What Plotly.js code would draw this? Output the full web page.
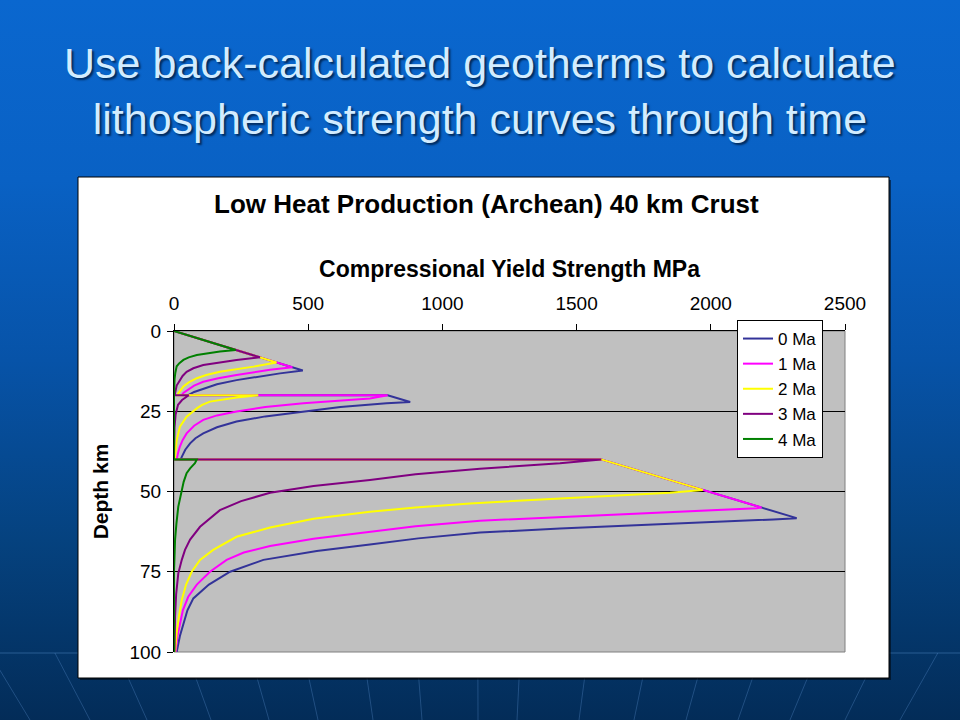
<!DOCTYPE html>
<html>
<head>
<meta charset="utf-8">
<script src="https://cdn.plot.ly/plotly-3.0.1.min.js"></script>
<style>
html, body { margin: 0; padding: 0; width: 960px; height: 720px; overflow: hidden; }
body { background: linear-gradient(to bottom, #0a67cf 0%, #0961c4 25%, #0753a8 50%, #05427f 75%, #032c58 100%); }
#chart { width: 960px; height: 720px; }
</style>
</head>
<body>
<div id="chart"></div>
<script>
// ---- data ----
const seriesNames = ['0 Ma', '1 Ma', '2 Ma', '3 Ma', '4 Ma'];

const depth0 = [0, 12.3, 13.2, 14.2, 15.3, 16.6, 17.9, 19, 20, 20, 22.1, 22.5, 23.7, 25.1, 26.6, 28.2, 30, 31.9, 33.4, 35, 37, 39.2, 40, 40, 58.3, 58.7, 59.7, 60.5, 61.5, 62.8, 64.6, 66.5, 68.5, 71.3, 75, 79, 83.3, 87, 91, 95, 100];
const strength0 = [0, 480, 395, 310, 233, 160, 109, 75, 53, 796, 880, 792, 620, 482, 340, 233, 160, 109, 80, 60, 42, 29, 25, 1592, 2320, 2233, 1960, 1700, 1438, 1140, 910, 730, 532, 333, 209, 130, 72, 50, 35, 22, 10];

const depth1 = [0, 11.3, 12.1, 12.9, 13.7, 14.7, 15.8, 17, 18.4, 19.2, 20, 20, 21, 22.5, 23.7, 25.1, 26.3, 27.7, 29.5, 31.9, 34, 36, 38, 40, 40, 55, 55.2, 56, 57.8, 59.1, 60.8, 62.5, 64.7, 67, 69, 71.3, 75, 79, 82.8, 87, 91, 95, 100];
const strength1 = [0, 441, 358, 290, 233, 165, 109, 75, 47, 36, 29, 796, 730, 482, 340, 233, 160, 109, 75, 47, 32, 22, 15, 10, 1592, 2189, 2171, 1960, 1438, 1140, 900, 730, 520, 358, 260, 196, 134, 85, 53, 33, 22, 13, 6];

const depth2 = [0, 9.8, 11.1, 11.9, 12.7, 13.7, 14.7, 16, 17.3, 19.4, 20, 20, 20.7, 22, 23, 24.1, 26.7, 29.8, 34, 39, 40, 40, 49.5, 50.4, 52.1, 53.7, 55, 56.3, 58.5, 61.2, 64.1, 68.2, 71.3, 75, 79, 83.8, 89, 94, 100];
const strength2 = [0, 382, 296, 230, 171, 120, 85, 55, 35, 16, 14, 314, 233, 134, 105, 85, 47, 22, 10, 4, 4, 1592, 1970, 1848, 1438, 1103, 900, 730, 520, 358, 233, 146, 97, 66, 45, 29, 18, 10, 4];

const depth3 = [0, 8.2, 9, 9.8, 10.6, 11.6, 12.7, 14, 15.3, 17, 19.4, 20, 20, 21.5, 23, 26, 30, 35, 40, 40, 40.5, 41.2, 42.9, 44.6, 46.4, 48.3, 50.4, 53, 55.8, 61, 65, 68.2, 71.3, 75.5, 82, 89, 100];
const strength3 = [0, 320, 233, 165, 109, 72, 47, 32, 22, 10, 4, 3, 55, 30, 15, 6, 2, 1, 0, 1592, 1538, 1438, 1140, 900, 730, 520, 358, 250, 171, 97, 60, 41, 29, 16, 8, 4, 2];

const depth4 = [0, 5.9, 6.4, 7, 7.5, 8.2, 9, 10, 11, 13, 15, 20, 40, 40, 41.2, 42.8, 44.3, 47, 49.5, 54.7, 60, 65, 75, 100];
const strength4 = [0, 230, 171, 125, 85, 55, 35, 20, 10, 5, 2, 0, 0, 85, 78, 60, 47, 36, 29, 16, 9, 4, 0, 0];

const xTicks = [0, 500, 1000, 1500, 2000, 2500];
const yTicks = [0, 25, 50, 75, 100];

// ---- styling ----
const lineColors = ['#333399', '#FF00FF', '#FFFF00', '#800080', '#008000'];
const depths = [depth0, depth1, depth2, depth3, depth4];
const strengths = [strength0, strength1, strength2, strength3, strength4];

const W = 960, H = 720;
const M = { l: 174, r: 115, t: 331, b: 68 };
const PW = W - M.l - M.r, PH = H - M.t - M.b;
const px = x => (x - M.l) / PW;
const py = y => (H - M.b - y) / PH;

const FONT = 'Arial, "Liberation Sans", sans-serif';

const traces = seriesNames.map((name, i) => ({
  type: 'scatter',
  mode: 'lines',
  name: name,
  x: strengths[i],
  y: depths[i],
  line: { color: lineColors[i], width: 2 },
  hoverinfo: 'skip'
}));

const shapes = [];
// decorative horizon + rays of the slide background
shapes.push({ type: 'line', xref: 'paper', yref: 'paper', x0: px(0), x1: px(960), y0: py(653), y1: py(653),
  line: { color: 'rgba(110,165,230,0.35)', width: 1 }, layer: 'below' });
const rayBottoms = [-60, 30, 90, 147, 211, 269, 318, 373, 422, 478, 517, 579, 634, 686, 738, 790, 845, 900, 990];
rayBottoms.forEach(xb => {
  const xt = 480 + (xb - 480) * 1.09;
  shapes.push({ type: 'line', xref: 'paper', yref: 'paper', x0: px(xt), y0: py(653), x1: px(xb), y1: py(720),
    line: { color: 'rgba(110,165,230,0.28)', width: 1 }, layer: 'below' });
});
// chart box (white) and plot area (gray)
shapes.push({ type: 'rect', xref: 'paper', yref: 'paper', x0: px(80), x1: px(891), y0: py(180), y1: py(680),
  fillcolor: 'rgba(0,0,0,0.5)', line: { width: 0 }, layer: 'below' });
shapes.push({ type: 'rect', xref: 'paper', yref: 'paper', x0: px(78), x1: px(889), y0: py(177), y1: py(678),
  fillcolor: '#FFFFFF', line: { color: '#000000', width: 1 }, layer: 'below' });
shapes.push({ type: 'rect', xref: 'paper', yref: 'paper', x0: 0, x1: 1, y0: 0, y1: 1,
  fillcolor: '#C0C0C0', line: { color: '#808080', width: 1 }, layer: 'below' });

const layout = {
  width: W, height: H,
  margin: M,
  paper_bgcolor: 'rgba(0,0,0,0)',
  plot_bgcolor: 'rgba(0,0,0,0)',
  font: { family: FONT, color: '#000000', size: 18 },
  showlegend: true,
  legend: {
    x: px(737), y: py(320), xanchor: 'left', yanchor: 'top',
    bgcolor: '#FFFFFF', bordercolor: '#000000', borderwidth: 1,
    font: { family: FONT, size: 17, color: '#000000' },
    itemwidth: 30
  },
  xaxis: {
    side: 'top',
    range: [0, 2500],
    tickvals: xTicks,
    ticktext: xTicks.map(String),
    ticks: 'outside', ticklen: 6, tickcolor: '#000000', tickwidth: 1,
    ticklabelstandoff: 6,
    showline: true, linecolor: '#000000', linewidth: 1,
    showgrid: false, zeroline: false,
    tickfont: { family: FONT, size: 19, color: '#000000' },
    title: { text: 'Compressional Yield Strength MPa', font: { family: FONT, size: 23, weight: 'bold', color: '#000000' }, standoff: 9 },
    fixedrange: true
  },
  yaxis: {
    range: [100, 0],
    tickvals: yTicks,
    ticktext: yTicks.map(String),
    ticks: 'outside', ticklen: 6, tickcolor: '#000000', tickwidth: 1,
    ticklabelstandoff: 2,
    showline: true, linecolor: '#000000', linewidth: 1,
    showgrid: true, gridcolor: '#000000', gridwidth: 1,
    zeroline: false,
    tickfont: { family: FONT, size: 19, color: '#000000' },
    title: { text: 'Depth km', font: { family: FONT, size: 21, weight: 'bold', color: '#000000' }, standoff: 15 },
    fixedrange: true
  },
  shapes: shapes,
  annotations: [
    {
      xref: 'paper', yref: 'paper', x: px(480), y: py(91), xanchor: 'center', yanchor: 'middle',
      text: 'Use back-calculated geotherms to calculate<br>lithospheric strength curves through time',
      showarrow: false, align: 'center',
      font: { family: FONT, size: 43, color: '#D2ECFF', shadow: '2px 2px 2px #002a5c' }
    },
    {
      xref: 'paper', yref: 'paper', x: px(486), y: py(204), xanchor: 'center', yanchor: 'middle',
      text: 'Low Heat Production (Archean) 40 km Crust',
      showarrow: false,
      font: { family: FONT, size: 26, weight: 'bold', color: '#000000' }
    }
  ]
};

Plotly.newPlot('chart', traces, layout, { displayModeBar: false, staticPlot: true });
</script>
</body>
</html>
